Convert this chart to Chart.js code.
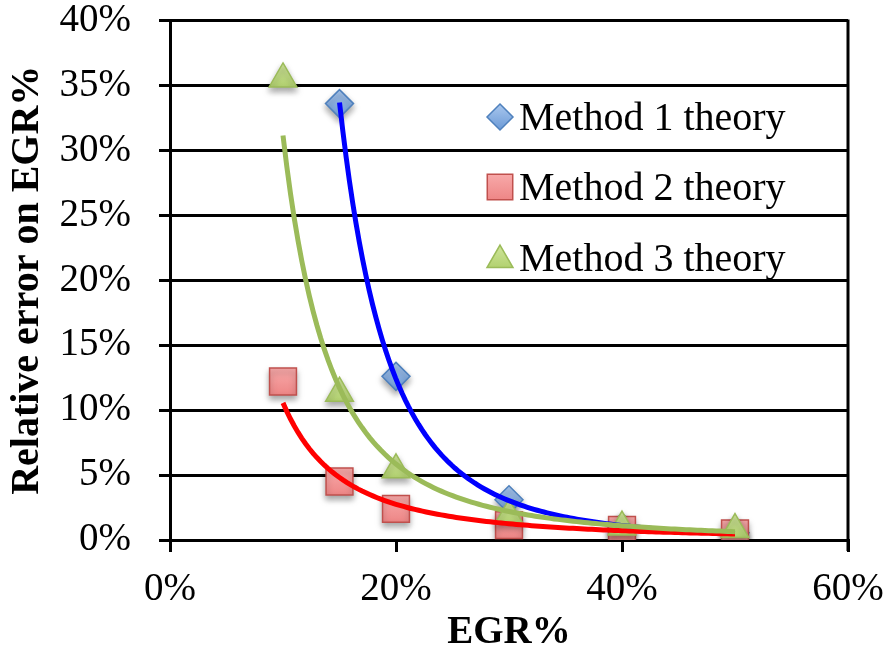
<!DOCTYPE html>
<html>
<head>
<meta charset="utf-8">
<script src="https://cdn.jsdelivr.net/npm/chart.js@4.4.1/dist/chart.umd.min.js"></script>
<style>
  html, body { margin: 0; padding: 0; background: #fff; }
  #wrap { width: 887px; height: 656px; position: relative; }
</style>
</head>
<body>
<div id="wrap"><canvas id="c"></canvas></div>
<script>
// ---- data (percent) ----
const egr = [10, 15, 20, 30, 40, 50];
const method1 = [null, 33.6, 12.6, 3.1, 1.0, 0.55];
const method2 = [12.2, 4.5, 2.4, 1.15, 0.77, 0.5];
const method3 = [35.5, 11.3, 5.4, 1.9, 1.0, 0.8];
const seriesNames = ['Method 1 theory', 'Method 2 theory', 'Method 3 theory'];
const xTicks = [0, 20, 40, 60];
const yTicks = [0, 5, 10, 15, 20, 25, 30, 35, 40];

const FONT = "'Liberation Serif', 'Times New Roman', serif";

function points(xs, ys) {
  const out = [];
  xs.forEach((x, i) => { if (ys[i] != null) out.push({ x: x, y: ys[i] }); });
  return out;
}

// least-squares power-law trendline (as Excel "Power" trendline) built from the data
function powerTrend(xs, ys, n) {
  const p = points(xs, ys);
  const lx = p.map(d => Math.log(d.x)), ly = p.map(d => Math.log(d.y));
  const mx = lx.reduce((a, b) => a + b, 0) / lx.length;
  const my = ly.reduce((a, b) => a + b, 0) / ly.length;
  let sxy = 0, sxx = 0;
  lx.forEach((v, i) => { sxy += (v - mx) * (ly[i] - my); sxx += (v - mx) * (v - mx); });
  const b = sxy / sxx, a = Math.exp(my - b * mx);
  const x0 = p[0].x, x1 = p[p.length - 1].x;
  const out = [];
  for (let i = 0; i <= n; i++) {
    const x = x0 + (x1 - x0) * i / n;
    out.push({ x: x, y: a * Math.pow(x, b) });
  }
  return out;
}

const styles = [
  { shape: 'rectRot', r: 14, fill: '#6c9ad6', top: '#a9c7ee', border: '#4f81bd', line: '#0000ff' },
  { shape: 'rect', r: 19, fill: '#ec7f7f', top: '#f9b0b0', border: '#c0504d', line: '#ff0000' },
  { shape: 'triangle', r: 16, fill: '#a9cb62', top: '#cfe59a', border: '#9bbb59', line: '#9bbb59' }
];
const seriesData = [method1, method2, method3];

function gradFill(k) {
  return function (c) {
    const el = c.element;
    const ctx = c.chart.ctx;
    if (!el || el.y == null || isNaN(el.y)) return styles[k].fill;
    const r = styles[k].r;
    const g = ctx.createLinearGradient(0, el.y - r, 0, el.y + r);
    g.addColorStop(0, styles[k].top);
    g.addColorStop(1, styles[k].fill);
    return g;
  };
}

const datasets = [];
// trendlines (drawn above markers); green on top
[2, 1, 0].forEach((k, j) => {
  datasets.push({
    type: 'line',
    label: seriesNames[k] + ' trend',
    data: powerTrend(egr, seriesData[k], 120),
    borderColor: styles[k].line,
    borderWidth: 5,
    pointRadius: 0,
    fill: false,
    tension: 0,
    order: j,
    isTrend: true
  });
});
[2, 1, 0].forEach((k, j) => {
  datasets.push({
    type: 'scatter',
    label: seriesNames[k],
    data: points(egr, seriesData[k]),
    pointStyle: styles[k].shape,
    pointRadius: styles[k].r,
    pointHoverRadius: styles[k].r,
    backgroundColor: styles[k].fill,
    borderColor: styles[k].border,
    borderWidth: 1.5,
    order: 3 + j,
    isMarker: true
  });
});

function drawShape(ctx, shape, x, y, r) {
  ctx.beginPath();
  if (shape === 'rectRot') {
    ctx.moveTo(x, y - r); ctx.lineTo(x + r, y); ctx.lineTo(x, y + r); ctx.lineTo(x - r, y);
  } else if (shape === 'rect') {
    const s = r * Math.SQRT1_2;
    ctx.rect(x - s, y - s, 2 * s, 2 * s);
  } else {
    const w = r * Math.sin(Math.PI / 3);
    ctx.moveTo(x, y - r); ctx.lineTo(x + w, y + r / 2); ctx.lineTo(x - w, y + r / 2);
  }
  ctx.closePath();
  ctx.fill();
  ctx.stroke();
}

const decorPlugin = {
  id: 'decor',
  beforeDatasetDraw(chart, args) {
    const ds = chart.data.datasets[args.index];
    if (ds.isMarker) {
      const ctx = chart.ctx;
      ctx.save();
      ctx.shadowColor = 'rgba(0,0,0,0.35)';
      ctx.shadowBlur = 6;
      ctx.shadowOffsetY = 4;
    }
  },
  afterDatasetDraw(chart, args) {
    const ds = chart.data.datasets[args.index];
    if (ds.isMarker) chart.ctx.restore();
  },
  afterDraw(chart) {
    const ctx = chart.ctx, a = chart.chartArea;
    // right border of plot area
    ctx.save();
    ctx.strokeStyle = '#000';
    ctx.lineWidth = 3;
    ctx.beginPath();
    ctx.moveTo(a.right, a.top - 1);
    ctx.lineTo(a.right, a.bottom + 11);
    ctx.stroke();
    // legend
    const rows = [117, 187, 258];
    ctx.font = '40px ' + FONT;
    ctx.textBaseline = 'middle';
    ctx.textAlign = 'left';
    const lr = [13, 18, 15];
    for (let k = 0; k < 3; k++) {
      const cy = rows[k] + (k === 2 ? 2 : 0);
      const g = ctx.createLinearGradient(0, cy - lr[k], 0, cy + lr[k]);
      g.addColorStop(0, styles[k].top);
      g.addColorStop(1, styles[k].fill);
      ctx.fillStyle = g;
      ctx.strokeStyle = styles[k].border;
      ctx.lineWidth = 1.5;
      drawShape(ctx, styles[k].shape, 500, cy, lr[k]);
      ctx.fillStyle = '#000';
      ctx.fillText(seriesNames[k], 519, rows[k] + 2);
    }
    ctx.restore();
  }
};

// gradient fills for marker datasets
datasets.forEach(ds => {
  if (ds.isMarker) {
    const k = seriesNames.indexOf(ds.label);
    ds.backgroundColor = gradFill(k);
  }
});

new Chart(document.getElementById('c'), {
  data: { datasets: datasets },
  options: {
    responsive: true,
    maintainAspectRatio: false,
    animation: false,
    layout: { padding: { top: 20, right: 39, left: 0, bottom: 0 } },
    plugins: { legend: { display: false }, tooltip: { enabled: false } },
    scales: {
      x: {
        type: 'linear',
        min: 0, max: 60,
        afterBuildTicks(s) { s.ticks = xTicks.map(v => ({ value: v })); },
        afterFit(s) { s.height = 116; s.paddingLeft = 0; s.paddingRight = 0; },
        ticks: {
          callback: v => v + '%',
          font: { family: FONT, size: 39 },
          color: '#000',
          padding: 14,
          maxRotation: 0
        },
        grid: { drawOnChartArea: false, color: '#000', lineWidth: 3, tickLength: 12 },
        border: { color: '#000', width: 3 },
        title: {
          display: true, text: 'EGR%', color: '#000',
          font: { family: FONT, size: 39, weight: 'bold' },
          padding: { top: 0, bottom: 0 }
        }
      },
      y: {
        type: 'linear',
        min: 0, max: 40,
        afterBuildTicks(s) { s.ticks = yTicks.map(v => ({ value: v })); },
        afterFit(s) { s.width = 170; s.paddingTop = 0; s.paddingBottom = 0; },
        ticks: {
          callback: v => v + '%',
          font: { family: FONT, size: 39 },
          color: '#000',
          padding: 28
        },
        grid: { color: '#000', lineWidth: 3, tickLength: 11 },
        border: { color: '#000', width: 3 },
        title: {
          display: true, text: 'Relative error on EGR%', color: '#000',
          font: { family: FONT, size: 40, weight: 'bold' },
          padding: { top: 4, bottom: 0 }
        }
      }
    }
  },
  plugins: [decorPlugin]
});
</script>
</body>
</html>
